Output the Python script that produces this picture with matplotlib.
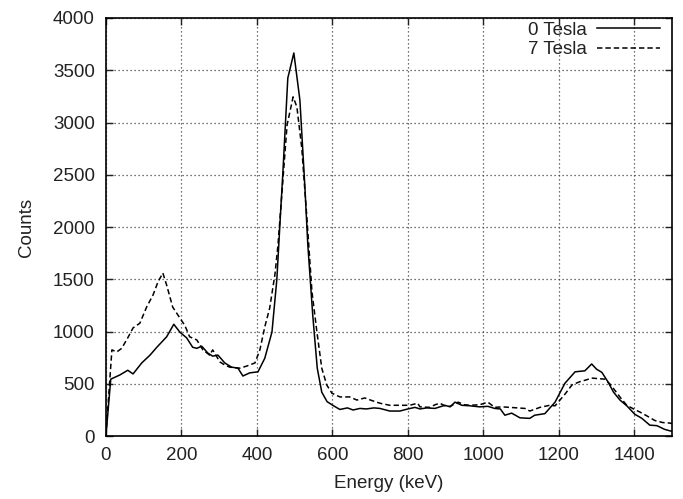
import matplotlib
matplotlib.use("Agg")
import matplotlib.pyplot as plt

plt.rcParams['font.family'] = ['Liberation Sans', 'DejaVu Sans']

# 0 Tesla (solid)
e0 = [0, 13, 37, 58, 72, 95, 117, 135, 161, 180, 196, 214, 230, 241, 254, 270, 283, 297,
      315, 333, 350, 363, 381, 403, 421, 440, 453, 461, 469, 482, 498, 514, 527, 535, 548,
      560, 572, 586, 601, 620, 640, 655, 673, 690, 710, 726, 752, 779, 800, 819, 832, 850,
      872, 898, 912, 925, 943, 965, 990, 1012, 1030, 1045, 1057, 1075, 1097, 1123, 1136,
      1163, 1190, 1216, 1243, 1269, 1287, 1300, 1314, 1330, 1345, 1362, 1380, 1401, 1420,
      1441, 1460, 1480, 1500]
c0 = [0, 545, 585, 630, 595, 700, 775, 850, 950, 1070, 995, 940, 850, 840, 860, 795, 765, 775,
      700, 660, 650, 575, 605, 615, 745, 995, 1500, 2020, 2525, 3425, 3665, 3215, 2400, 1830, 1160,
      650, 420, 330, 295, 255, 270, 250, 265, 260, 270, 265, 240, 240, 260, 275, 260, 270,
      265, 295, 280, 325, 295, 290, 280, 285, 265, 260, 200, 220, 175, 170, 200,
      215, 325, 505, 615, 625, 690, 640, 610, 520, 420, 345, 290, 210, 170,
      105, 100, 65, 45]

# 7 Tesla (dashed)
e7 = [0, 16, 29, 42, 58, 72, 90, 108, 125, 138, 151, 161, 177, 196, 209, 222, 241, 257, 275,
      283, 302, 315, 328, 355, 373, 395, 408, 421, 434, 448, 456, 468, 480, 496, 506, 519, 532,
      546, 559, 572, 585, 599, 620, 646, 665, 686, 705, 726, 752, 779, 805, 826, 832, 858, 872,
      885, 898, 912, 933, 950, 965, 990, 1012, 1030, 1050, 1070, 1090, 1110, 1123, 1150, 1176,
      1190, 1203, 1216, 1235, 1255, 1270, 1287, 1305, 1322, 1335, 1348, 1365, 1380, 1398, 1415,
      1435, 1454, 1475, 1494, 1500]
c7 = [0, 825, 805, 840, 940, 1035, 1080, 1235, 1350, 1475, 1560, 1445, 1235, 1130, 1060, 950, 920, 825, 775,
      825, 710, 680, 660, 650, 670, 700, 825, 1045, 1225, 1550, 1830, 2400, 2975, 3245, 3150, 2755, 2115,
      1380, 1000, 650, 490, 410, 375, 375, 345, 365, 340, 315, 295, 295, 295, 315, 280, 275, 300,
      315, 290, 285, 325, 300, 295, 300, 325, 275, 280, 275, 270, 265, 240, 275, 295,
      290, 345, 400, 490, 520, 535, 555, 550, 545, 500, 440, 360, 295, 260, 230,
      190, 150, 130, 125, 120]

labels = ["0 Tesla", "7 Tesla"]
xticks = [0, 200, 400, 600, 800, 1000, 1200, 1400]
yticks = [0, 500, 1000, 1500, 2000, 2500, 3000, 3500, 4000]

fig = plt.figure(figsize=(6.83, 4.99), dpi=100)
ax = fig.add_axes([0.155, 0.126, 0.829, 0.838])

ax.plot(e0, c0, color='black', lw=1.1, ls='-', label=labels[0])
ax.plot(e7, c7, color='black', lw=1.1, ls=(0, (3.5, 2)), label=labels[1])

ax.set_xlim(0, 1500)
ax.set_ylim(0, 4000)
ax.set_xticks(xticks)
ax.set_yticks(yticks)
ax.grid(True, color='#444444', ls=(0, (1, 2.2)), lw=0.9)
ax.tick_params(direction='in', top=True, right=True, length=5, width=1,
               labelsize=13.5, colors='#222222', pad=8)
for s in ax.spines.values():
    s.set_linewidth(1.2)
ax.set_xlabel("Energy (keV)", fontsize=13.5, color='#222222', labelpad=8)
ax.set_ylabel("Counts", fontsize=13.5, color='#222222', labelpad=13)

leg = ax.legend(loc='upper right', bbox_to_anchor=(0.986, 1.0), frameon=False,
                markerfirst=False, fontsize=13.5,
                handlelength=3.4, handletextpad=0.5, borderaxespad=0.0,
                borderpad=0.2, labelspacing=0.12, alignment='right')
for t in leg.get_texts():
    t.set_ha('right')
    t.set_color('#222222')

fig.savefig("out.png", dpi=100)
